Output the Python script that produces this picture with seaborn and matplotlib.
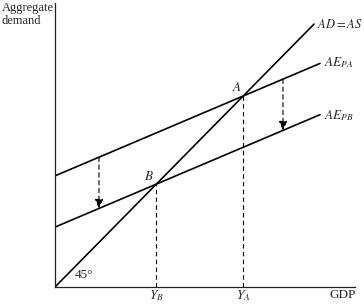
import numpy as np
import pandas as pd
import matplotlib
matplotlib.use("Agg")
import matplotlib.pyplot as plt
import seaborn as sns

# ---- data (model parameters) ----
curves = ["AD = AS", "AE_PA", "AE_PB"]
intercepts = [0.0, 109.5, 59.0]      # value at GDP = 0
slopes = [1.0, 0.418, 0.418]
x_ends = [259.0, 265.0, 265.0]       # where each line stops
arrow_x = [44.0, 228.0]              # GDP positions of the downward shift arrows
x_tick_labels = ["$Y_B$", "$Y_A$"]

sns.set_theme(style="white")
plt.rcParams["font.family"] = ["Liberation Serif", "DejaVu Serif"]
plt.rcParams["mathtext.fontset"] = "stix"

W, H = 364, 304
fig = plt.figure(figsize=(W / 100, H / 100), dpi=100)
fig.patch.set_facecolor("white")
ax = fig.add_axes([55 / W, 17 / H, 300 / W, 284 / H])
ax.set_xlim(0, 300)
ax.set_ylim(0, 284 / 1.015)
ax.set_facecolor("white")
for s in ["top", "right"]:
    ax.spines[s].set_visible(False)
for s in ["left", "bottom"]:
    ax.spines[s].set_color("#222222")
    ax.spines[s].set_linewidth(0.9)
ax.set_xticks([])
ax.set_yticks([])

# lines through seaborn
rows = []
for name, b, m, xe in zip(curves, intercepts, slopes, x_ends):
    for xv in [0.0, xe]:
        rows.append({"curve": name, "GDP": xv, "AD": b + m * xv})
df = pd.DataFrame(rows)
sns.lineplot(data=df, x="GDP", y="AD", units="curve", estimator=None,
             color="black", lw=1.2, ax=ax, legend=False)
ax.set_xlabel("")
ax.set_ylabel("")

# equilibria
YA = intercepts[1] / (slopes[0] - slopes[1])
YB = intercepts[2] / (slopes[0] - slopes[2])
for yv in [YA, YB]:
    ax.plot([yv, yv], [0, yv], color="black", lw=0.8, ls=(0, (4, 3)))

# shift arrows
for xa in arrow_x:
    top = intercepts[1] + slopes[1] * xa
    bot = intercepts[2] + slopes[2] * xa
    ax.annotate("", xy=(xa, bot), xytext=(xa, top),
                arrowprops=dict(arrowstyle="-|>,head_length=0.55,head_width=0.25",
                                linestyle=(0, (4, 3)), lw=0.8, color="black",
                                fc="black", shrinkA=0, shrinkB=0, mutation_scale=10))

# labels
fs = 9.5
ax.annotate(r"$AD = AS$", xy=(x_ends[0], intercepts[0] + slopes[0] * x_ends[0]),
            xytext=(3, 0), textcoords="offset pixels", ha="left", va="center",
            fontsize=9, annotation_clip=False)
ax.annotate("$AE_{PA}$", xy=(x_ends[1], intercepts[1] + slopes[1] * x_ends[1]),
            xytext=(4, 1), textcoords="offset pixels", ha="left", va="center",
            fontsize=fs, annotation_clip=False)
ax.annotate("$AE_{PB}$", xy=(x_ends[2], intercepts[2] + slopes[2] * x_ends[2]),
            xytext=(4, -1), textcoords="offset pixels", ha="left", va="center",
            fontsize=fs, annotation_clip=False)
ax.annotate("$A$", xy=(YA, YA), xytext=(-1, 2), textcoords="offset pixels",
            ha="right", va="bottom", fontsize=fs)
ax.annotate("$B$", xy=(YB, YB), xytext=(-2, 1), textcoords="offset pixels",
            ha="right", va="bottom", fontsize=fs)
ax.text(20, 12, "45°", fontsize=fs, ha="left", va="center")
ax.annotate(x_tick_labels[0], xy=(YB, 0), xytext=(0, -9), textcoords="offset pixels",
            ha="center", va="center", fontsize=fs, annotation_clip=False)
ax.annotate(x_tick_labels[1], xy=(YA, 0), xytext=(0, -9), textcoords="offset pixels",
            ha="center", va="center", fontsize=fs, annotation_clip=False)
fig.text(356 / W, 9 / H, "GDP", ha="right", va="center", fontsize=fs)
fig.text(2 / W, 1 - 2 / H, "Aggregate\ndemand", ha="left", va="top",
         fontsize=9, linespacing=1.1)

fig.savefig("out.png", dpi=100, facecolor="white")
